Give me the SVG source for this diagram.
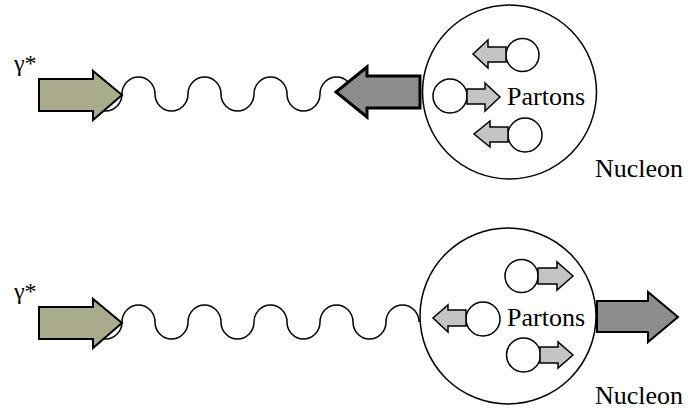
<svg xmlns="http://www.w3.org/2000/svg" width="690" height="409" viewBox="0 0 690 409">
<style>
.lbl{font-size:26px;font-family:"Liberation Serif","DejaVu Serif",serif}
.g{font-size:24px;font-family:"Liberation Serif","DejaVu Serif",serif}
.wave{fill:none;stroke:#000;stroke-width:1.5}
.olive{fill:#aaaa8c;stroke:#000;stroke-width:2;stroke-linejoin:miter}
.dark{fill:#8c8c8c;stroke:#000;stroke-width:2}
.thick{stroke-width:3}
.small{fill:#c4c4c4;stroke:#000;stroke-width:1.5}
.big{fill:#fff;stroke:#000;stroke-width:1.5}
.pc{fill:#fff;stroke:#000;stroke-width:1.5}
</style>
<rect width="690" height="409" fill="#fff"/>
<g id="connectors">
<path class="wave" d="M89,94 a16.5,17 0 0 0 33,0 a16.5,17 0 0 1 33,0 a16.5,17 0 0 0 33,0 a16.5,17 0 0 1 33,0 a16.5,17 0 0 0 33,0 a16.5,17 0 0 1 33,0 a16.5,17 0 0 0 33,0 a16.5,17 0 0 1 33,0"/>
<path class="wave" d="M89,322 a16.5,17 0 0 0 33,0 a16.5,17 0 0 1 33,0 a16.5,17 0 0 0 33,0 a16.5,17 0 0 1 33,0 a16.5,17 0 0 0 33,0 a16.5,17 0 0 1 33,0 a16.5,17 0 0 0 33,0 a16.5,17 0 0 1 33,0 a16.5,17 0 0 0 33,0 a16.5,17 0 0 1 33,0"/>
</g>
<g id="photon-top">
<polygon class="olive" points="39,79 93,79 93,71 122,95 93,120 93,111 39,111"/>
<text class="g" x="14" y="71">γ*</text>
</g>
<g id="nucleon-top">
<circle class="big" cx="509.5" cy="92" r="87"/>
<polygon class="dark thick" points="420,76 367,76 367,67 336,92 367,117 367,108 420,108"/>
<circle class="pc" cx="522.5" cy="55" r="16.5"/>
<polygon class="small" points="506,47 488,47 488,40 473,54 488,68 488,62 506,62"/>
<circle class="pc" cx="450" cy="96" r="17"/>
<polygon class="small" points="467,89 485,89 485,83 500,97 485,111 485,104 467,104"/>
<circle class="pc" cx="525" cy="135" r="17"/>
<polygon class="small" points="508,127 490,127 490,121 474,134 490,147 490,142 508,142"/>
<text class="lbl" x="507" y="105">Partons</text>
<text class="lbl" x="595" y="177">Nucleon</text>
</g>
<g id="photon-bottom">
<polygon class="olive" points="39,307 93,307 93,299 122,323 93,348 93,339 39,339"/>
<text class="g" x="14" y="299">γ*</text>
</g>
<g id="nucleon-bottom">
<circle class="big" cx="508" cy="316" r="88"/>
<polygon class="dark" points="597,301 648,301 648,292 678,317 648,342 648,332 597,332"/>
<circle class="pc" cx="521.5" cy="276" r="16.5"/>
<polygon class="small" points="538,268 557,268 557,262 573,276 557,290 557,284 538,284"/>
<circle class="pc" cx="523.5" cy="355" r="17"/>
<polygon class="small" points="540,347 558,347 558,342 573,355 558,368 558,363 540,363"/>
<circle class="pc" cx="483" cy="319" r="17"/>
<polygon class="small" points="466,310 448,310 448,305 433,318 448,332 448,326 466,326"/>
<text class="lbl" x="507" y="326">Partons</text>
<text class="lbl" x="595" y="404">Nucleon</text>
</g>
</svg>
